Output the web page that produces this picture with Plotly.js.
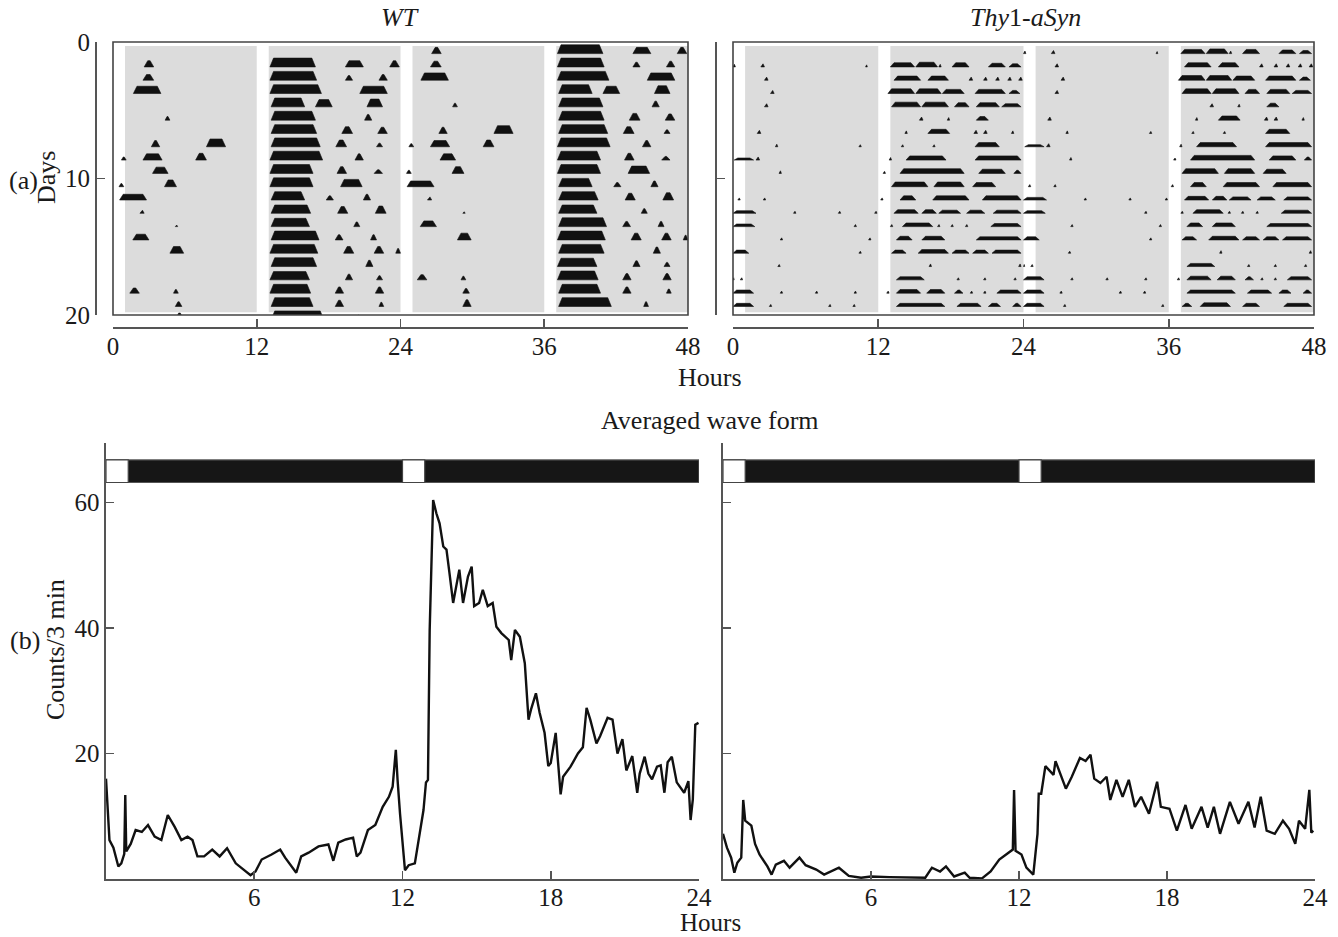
<!DOCTYPE html>
<html><head><meta charset="utf-8">
<script src="https://cdn.plot.ly/plotly-3.0.1.min.js"></script>
<style>html,body{margin:0;padding:0;background:#fff}</style>
</head><body><div id="chart" style="width:1338px;height:937px"></div>
<script>
// ---------- DATA ----------
// Dark (gray) periods on the double-plotted actograms, hours
const darkPeriods = [[1,12],[13,24],[25,36],[37,48]];
// Light pulses in the 24-h averaged wave form, hours
const lightPulses = [[0,0.9],[12,12.9]];
// Actogram bouts per day: [startHour, endHour, relativeHeight]
const wtDays = [
 [[2.6,3.4,.6],[13.1,16.9,.85],[19.4,20.9,.6],[23.1,23.9,.6]],
 [[2.5,3.4,.55],[13.1,17.0,.85],[19.4,20.0,.45],[22.2,22.9,.55]],
 [[1.7,4.0,.7],[13.1,17.4,.85],[20.6,22.9,.7]],
 [[13.2,16.0,.85],[16.9,18.3,.7],[21.2,22.5,.75]],
 [[4.35,4.75,.35],[13.2,16.9,.85],[21.0,21.6,.55]],
 [[13.2,17.0,.85],[19.1,20.0,.65],[22.1,22.9,.6]],
 [[3.2,3.9,.6],[7.8,9.4,.75],[13.2,17.3,.85],[18.6,19.5,.65],[22.0,22.5,.35]],
 [[0.7,1.1,.3],[2.5,4.1,.6],[6.9,7.8,.65],[13.1,17.5,.85],[20.2,20.9,.6]],
 [[3.3,4.6,.6],[13.1,16.7,.85],[18.7,19.5,.65],[21.8,22.5,.35]],
 [[0.5,0.9,.3],[4.3,5.3,.65],[13.1,16.7,.85],[19.0,20.8,.7]],
 [[0.55,2.8,.55],[13.2,16.0,.8],[17.8,18.4,.4],[20.9,21.5,.55]],
 [[2.25,2.6,.3],[13.2,16.5,.8],[18.75,19.6,.65],[21.9,22.8,.7]],
 [[5.2,5.4,.15],[13.2,16.4,.8],[20.1,20.6,.45]],
 [[1.65,3.0,.55],[13.2,17.2,.85],[18.55,19.2,.5],[21.5,22.0,.5]],
 [[4.75,5.9,.65],[13.1,17.1,.85],[19.25,20.1,.65],[21.8,22.6,.65],[23.6,24.0,.45]],
 [[13.2,17.0,.85],[21.1,21.7,.6]],
 [[13.1,16.4,.8],[19.4,20.0,.55],[22.0,22.5,.4]],
 [[1.4,2.2,.5],[5.05,5.45,.35],[13.1,16.5,.85],[18.55,19.25,.6],[21.9,22.6,.6]],
 [[5.2,5.75,.45],[13.2,16.7,.85],[18.55,19.25,.6],[22.2,22.6,.4]],
 [[5.2,5.9,.65],[13.2,17.6,.85],[20.3,20.7,.45]]
];
const tgDays = [
 [[0,0.2,.25],[2.3,2.6,.3],[10.95,11.1,.2],[13.0,15.0,.4],[15.1,16.9,.45],[17.0,17.2,.25],[18.1,19.5,.4],[21.1,22.5,.35],[22.8,23.8,.3]],
 [[2.6,2.9,.3],[13.3,15.5,.4],[16.1,17.8,.4],[19.5,19.8,.3],[20.7,21.0,.3],[21.7,22.0,.3],[22.7,23.0,.3],[23.6,23.9,.3]],
 [[3.1,3.4,.3],[12.8,15.0,.45],[15.1,17.2,.45],[17.3,19.1,.4],[20.0,22.5,.4],[22.8,23.7,.3]],
 [[2.6,2.9,.3],[13.1,15.5,.45],[15.6,17.8,.45],[18.3,19.5,.4],[20.1,22.0,.4],[22.2,23.8,.3]],
 [[15.4,15.7,.3],[17.7,17.9,.25],[20.1,21.1,.35]],
 [[2.0,2.3,.3],[14.2,14.4,.25],[16.1,17.9,.4],[19.9,20.2,.3],[20.7,21.0,.3],[23.0,23.2,.25]],
 [[3.5,3.7,.25],[10.4,10.6,.2],[13.9,14.1,.2],[16.5,16.7,.2],[20.0,22.0,.4]],
 [[0.1,1.7,.2],[1.9,2.2,.3],[12.9,13.1,.25],[14.3,17.6,.4],[20.0,23.8,.4]],
 [[3.8,4.0,.25],[12.4,12.6,.2],[13.8,19.1,.45],[20.3,22.5,.4],[23.2,23.8,.3]],
 [[13.1,16.1,.45],[16.6,19.1,.45],[19.8,21.7,.4]],
 [[0.4,0.6,.2],[2.5,2.7,.2],[12.2,12.4,.2],[13.8,15.1,.4],[16.5,19.5,.4],[20.6,23.8,.4]],
 [[0.0,1.9,.25],[5.0,5.2,.2],[8.7,8.9,.2],[11.7,11.9,.2],[13.3,15.3,.35],[15.6,16.8,.35],[17.0,18.8,.3],[19.3,20.8,.3],[21.5,23.8,.3]],
 [[0,1.8,.25],[10.0,10.2,.2],[13.0,13.2,.2],[14.0,16.5,.35],[16.9,17.1,.2],[18.0,18.2,.2],[19.2,19.4,.2],[21.3,23.8,.3]],
 [[3.9,4.1,.2],[11.2,11.4,.2],[13.5,14.8,.35],[15.6,17.5,.35],[20.1,23.8,.3]],
 [[0,1.3,.3],[10.4,10.6,.2],[13.1,14.3,.3],[15.3,17.8,.35],[18.1,19.5,.3],[19.8,21.1,.3],[21.4,23.8,.3]],
 [[3.7,3.9,.2],[16.2,16.4,.25],[23.6,23.8,.25]],
 [[0,0.1,.2],[0.6,0.8,.2],[13.5,15.8,.3],[18.5,18.7,.2],[20.7,20.9,.2],[23.2,23.4,.2]],
 [[0,1.7,.3],[3.9,4.1,.2],[6.8,7.0,.2],[10.0,10.2,.2],[12.7,12.9,.2],[13.5,15.5,.35],[16.0,17.5,.35],[18.3,19.0,.3],[19.6,19.8,.2],[20.7,20.9,.2],[21.8,23.8,.3]],
 [[0,1.7,.3],[3.0,3.2,.2],[7.9,8.1,.2],[9.9,10.1,.2],[13.5,17.5,.3],[18.5,20.5,.3],[21.1,22.1,.3],[23.1,23.8,.3]],
 [[0,1.7,.3],[3.3,3.5,.2],[11.4,11.6,.2],[13.1,13.9,.3],[14.6,17.1,.35],[18.1,19.5,.3],[21.5,23.8,.3]]
];
// Averaged wave form (counts / 3 min)
const wtHours = [0,0.14,0.3,0.5,0.62,0.74,0.78,0.82,1.0,1.2,1.45,1.7,1.97,2.24,2.5,2.78,3.05,3.3,3.5,3.7,3.97,4.3,4.6,4.9,5.25,5.5,5.85,6.05,6.3,6.7,7.05,7.25,7.5,7.7,7.9,8.2,8.6,9.0,9.2,9.4,9.7,10.0,10.15,10.3,10.6,10.9,11.2,11.45,11.6,11.73,11.8,11.9,12.1,12.25,12.5,12.7,12.85,12.95,13.03,13.1,13.24,13.37,13.5,13.65,13.78,13.9,14.05,14.2,14.3,14.45,14.65,14.8,14.9,15.1,15.25,15.45,15.65,15.8,16.0,16.3,16.4,16.55,16.75,16.95,17.1,17.2,17.4,17.55,17.75,17.9,18.0,18.2,18.4,18.5,18.8,19.1,19.3,19.45,19.6,19.85,20.0,20.3,20.5,20.7,20.9,21.06,21.3,21.5,21.6,21.8,21.95,22.1,22.3,22.45,22.6,22.73,22.9,23.1,23.4,23.57,23.66,23.75,23.85,23.98];
const wtCounts = [16,6.2,5,2,2.5,4,13.4,4.4,5.6,7.8,7.5,8.6,6.75,6.2,10.2,8.3,6.2,6.75,6.2,3.6,3.6,4.7,3.6,4.9,2.5,1.7,0.6,1.2,3.1,3.9,4.7,3.4,2.0,1.0,3.6,4.2,5.2,5.5,2.9,5.8,6.3,6.6,3.6,4.2,7.8,8.6,11.5,13.1,14.7,20.6,15.8,10.4,1.4,2.2,2.5,7.8,11,15.4,15.8,39.7,60.4,58.3,56.7,53,52.5,48.8,44,47.2,49.3,44,48.2,49.8,43.5,44,46.1,43.5,44,40.2,39.2,38.1,34.9,39.7,38.6,34.4,25.4,27,29.6,26.5,23.3,18,18.5,23.3,13.5,16.3,17.9,20,21,27.3,25.4,21.6,22.8,25.7,25.4,20,22.3,17.3,19.6,13.75,16.8,19.5,16.8,15.9,17.9,18.1,13.75,18.6,19.5,15.4,13.75,15.6,9.4,12.7,24.6,24.9];
const tgHours = [0,0.16,0.33,0.46,0.58,0.74,0.82,0.9,1.15,1.3,1.48,1.65,1.8,1.97,2.14,2.47,2.7,3.1,3.35,3.78,4.1,4.7,5.1,5.6,6.0,6.74,7.56,8.2,8.47,8.8,9.04,9.37,9.8,10.0,10.5,10.85,11.2,11.5,11.75,11.8,11.86,12.1,12.3,12.58,12.75,12.8,12.9,13.07,13.4,13.48,13.73,13.9,14.14,14.47,14.7,14.9,15.05,15.3,15.55,15.7,15.95,16.2,16.45,16.7,16.95,17.27,17.6,17.75,18.1,18.4,18.75,19.0,19.4,19.65,19.9,20.15,20.55,20.9,21.3,21.55,21.8,22.04,22.37,22.7,22.95,23.2,23.35,23.6,23.77,23.85,23.93];
const tgCounts = [7.2,5,3.4,1,2.6,3.4,12.6,9.3,8.5,5.6,3.9,2.9,2,0.7,2.3,2.9,1.8,3.4,2.2,1.5,0.7,1.8,0.5,0.2,0.4,0.3,0.2,0.2,1.8,1.2,2,0.4,1,0.2,0.1,1.2,3.1,3.9,4.7,14.2,4.5,3.9,1.8,0.7,7.2,13.6,13.6,18,16.6,18.8,16.3,14.4,16.3,19.3,18.8,19.8,16,15.3,16.3,12.6,15.8,13.1,15.8,11.5,13.1,10.4,15.5,11.5,11.2,7.7,11.8,8,11.5,8.2,11.5,7.2,12.3,8.8,12.3,8.2,13.1,7.7,7.2,9.3,8,5.6,9.3,8,14.2,7.4,7.7];
const dayTicks = [0,10,20];
const hourTicks48 = [0,12,24,36,48];
const hourTicks24 = [6,12,18,24];
const countTicks = [20,40,60];

// ---------- BUILD ----------
const W = 1338, H = 937;
const fx = px => px / W, fy = py => 1 - py / H;
const ROW0 = 0.85, ROWSTEP = 0.975, HSCALE = 0.78;

function actogramPolys(days) {
  const xs = [], ys = [];
  const nRows = days.length + 1;
  for (let k = 0; k < nRows; k++) {
    const base = ROW0 + k * ROWSTEP;
    const halves = [];
    if (k >= 1) halves.push([days[k - 1], 0]);
    if (k < days.length) halves.push([days[k], 24]);
    halves.forEach(([bouts, off]) => {
      bouts.forEach(([s, e, h]) => {
        const a = s + off, b = e + off, w = b - a;
        const top = base - h * ROWSTEP * HSCALE;
        const sl = Math.min(0.3, w * 0.4);
        xs.push(a, a + sl, b - sl, b, a, null);
        ys.push(base, top, top, base, base, null);
      });
    });
  }
  return {xs, ys};
}

const wtP = actogramPolys(wtDays), tgP = actogramPolys(tgDays);
const SERIF = 'Liberation Serif';
const tickFont = {family: SERIF, size: 25, color: '#1a1a1a'};
const labFont = {family: SERIF, size: 26, color: '#1a1a1a'};
const axCol = '#555';

const data = [
  {x: wtP.xs, y: wtP.ys, xaxis: 'x', yaxis: 'y', mode: 'lines', fill: 'toself', fillcolor: '#111', line: {width: 0.6, color: '#111'}, hoverinfo: 'skip'},
  {x: tgP.xs, y: tgP.ys, xaxis: 'x2', yaxis: 'y2', mode: 'lines', fill: 'toself', fillcolor: '#111', line: {width: 0.6, color: '#111'}, hoverinfo: 'skip'},
  {x: wtHours, y: wtCounts, xaxis: 'x3', yaxis: 'y3', mode: 'lines', line: {color: '#111', width: 2.4}},
  {x: tgHours, y: tgCounts, xaxis: 'x4', yaxis: 'y4', mode: 'lines', line: {color: '#111', width: 2.4}}
];

const baseAx = {showgrid: false, zeroline: false, showline: true, linecolor: axCol, linewidth: 1.6,
  ticks: 'inside', ticklen: 8, tickwidth: 1.6, tickcolor: axCol, tickfont: tickFont, tickmode: 'array'};

const layout = {
  width: W, height: H, margin: {l: 0, r: 0, t: 0, b: 0},
  paper_bgcolor: '#fff', plot_bgcolor: 'rgba(0,0,0,0)', showlegend: false,
  xaxis: Object.assign({}, baseAx, {domain: [fx(113), fx(688)], range: [0, 48], anchor: 'free', position: fy(327), tickvals: hourTicks48, ticklabelstandoff: -4}),
  yaxis: Object.assign({}, baseAx, {domain: [fy(315), fy(42)], range: [20, 0], anchor: 'free', position: fx(95), tickvals: dayTicks}),
  xaxis2: Object.assign({}, baseAx, {domain: [fx(733), fx(1314)], range: [0, 48], anchor: 'free', position: fy(327), tickvals: hourTicks48, ticklabelstandoff: -4}),
  yaxis2: Object.assign({}, baseAx, {domain: [fy(315), fy(42)], range: [20, 0], anchor: 'free', position: fx(715), tickvals: dayTicks, showticklabels: false}),
  xaxis3: Object.assign({}, baseAx, {domain: [fx(106), fx(699)], range: [0, 24], anchor: 'y3', tickvals: hourTicks24, ticklabelstandoff: -5}),
  yaxis3: Object.assign({}, baseAx, {domain: [fy(879), fy(443)], range: [0, 69.5], anchor: 'x3', tickvals: countTicks}),
  xaxis4: Object.assign({}, baseAx, {domain: [fx(723), fx(1315)], range: [0, 24], anchor: 'y4', tickvals: hourTicks24, ticklabelstandoff: -5}),
  yaxis4: Object.assign({}, baseAx, {domain: [fy(879), fy(443)], range: [0, 69.5], anchor: 'x4', tickvals: countTicks, showticklabels: false}),
  shapes: [],
  annotations: []
};

[['x', 'y'], ['x2', 'y2']].forEach(([xa, ya]) => {
  darkPeriods.forEach(([a, b]) => layout.shapes.push({type: 'rect', layer: 'below', xref: xa, yref: ya,
    x0: a, x1: b, y0: 0.3, y1: 19.8, fillcolor: '#dcdcdc', line: {width: 0}}));
  layout.shapes.push({type: 'rect', xref: xa + ' domain', yref: ya + ' domain', x0: 0, x1: 1, y0: 0, y1: 1,
    line: {color: '#444', width: 1.6}, fillcolor: 'rgba(0,0,0,0)'});
});
[['x3', 'y3'], ['x4', 'y4']].forEach(([xa, ya]) => {
  layout.shapes.push({type: 'rect', xref: xa, yref: ya, x0: 0, x1: 24, y0: 63.2, y1: 66.8,
    fillcolor: '#161616', line: {color: '#555', width: 1.2}});
  lightPulses.forEach(([a, b]) => layout.shapes.push({type: 'rect', xref: xa, yref: ya, x0: a, x1: b, y0: 63.2, y1: 66.8,
    fillcolor: '#fff', line: {color: '#444', width: 1.2}}));
});

const txt = (text, x, y, extra) => Object.assign({text, xref: 'paper', yref: 'paper', x: fx(x), y: fy(y),
  xanchor: 'center', yanchor: 'middle', showarrow: false, font: labFont}, extra || {});
layout.annotations.push(
  txt('<i>WT</i>', 400, 18),
  txt('<i>Thy</i>1-<i>aSyn</i>', 1025, 18),
  txt('(a)', 23, 180),
  txt('Days', 47, 178, {textangle: -90}),
  txt('Hours', 710, 377),
  txt('Averaged wave form', 710, 420),
  txt('(b)', 25, 640),
  txt('Counts/3 min', 55, 650, {textangle: -90}),
  txt('Hours', 710, 937, {yanchor: 'bottom', y: 0, borderpad: 0, font: {family: SERIF, size: 25, color: '#1a1a1a'}})
);

Plotly.newPlot('chart', data, layout, {staticPlot: true});
</script></body></html>
